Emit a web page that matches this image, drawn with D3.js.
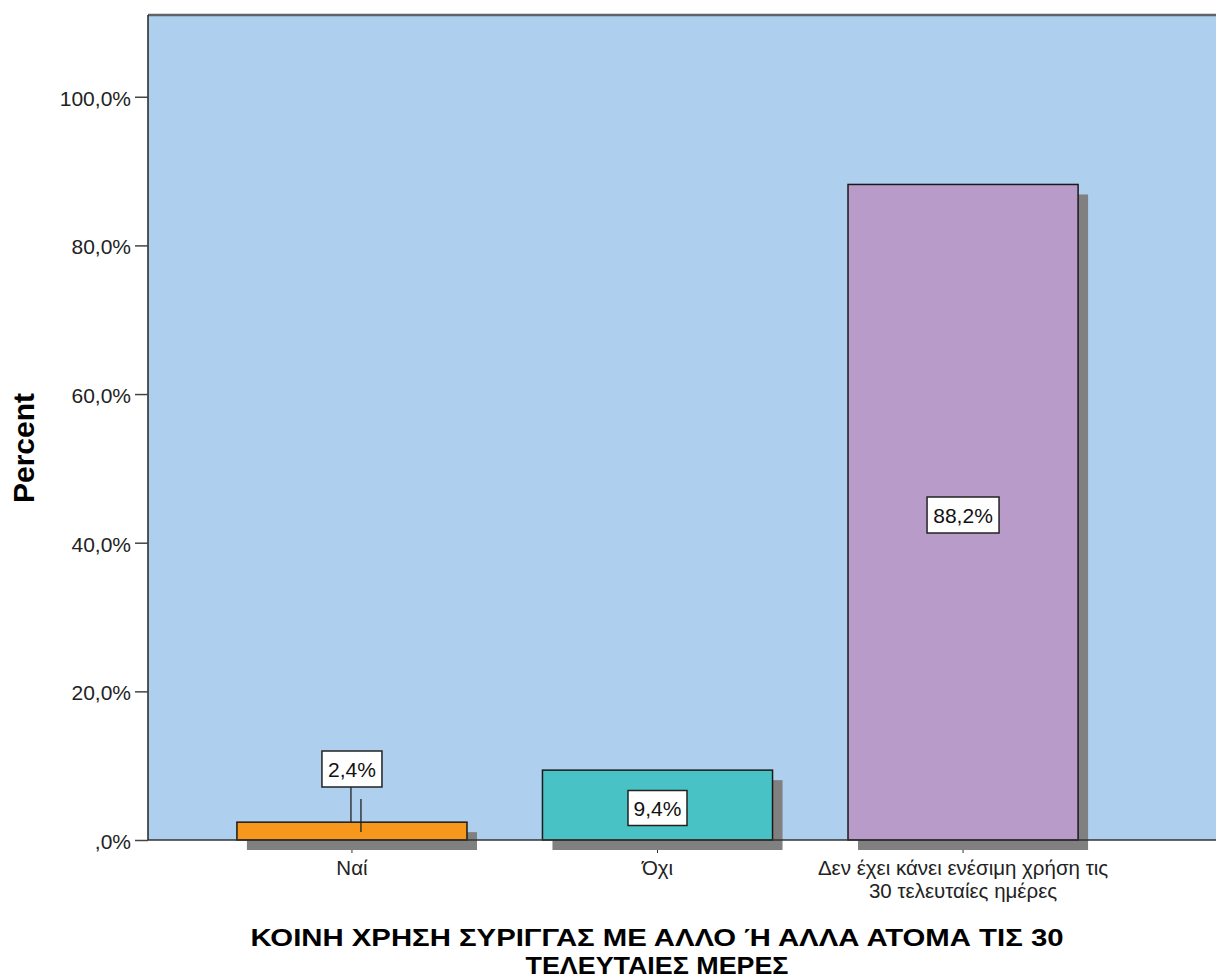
<!DOCTYPE html>
<html><head><meta charset="utf-8">
<script src="https://cdn.jsdelivr.net/npm/d3@7"></script>
<style>body{margin:0;background:#fff}</style>
</head><body>
<svg id="c" width="1216" height="979"></svg>
<script>
const categories = ["Ναί", "Όχι", "Δεν έχει κάνει ενέσιμη χρήση τις|30 τελευταίες ημέρες"];
const values = [2.4, 9.4, 88.2];
const colors = ["#F7981D", "#48C2C5", "#B89BC9"];
const valueLabels = ["2,4%", "9,4%", "88,2%"];
const yTicks = [0, 20, 40, 60, 80, 100];
const yTickLabels = [",0%", "20,0%", "40,0%", "60,0%", "80,0%", "100,0%"];
const titleLines = ["ΚΟΙΝΗ ΧΡΗΣΗ ΣΥΡΙΓΓΑΣ ΜΕ ΑΛΛΟ Ή ΑΛΛΑ ΑΤΟΜΑ ΤΙΣ 30", "ΤΕΛΕΥΤΑΙΕΣ ΜΕΡΕΣ"];

(function () {
const svg = d3.select("#c");
const pLeft = 148, pTop = 15, pBottom = 840, pRight = 1220;
const y = d3.scaleLinear().domain([0, 111]).range([pBottom, pTop]);
const x = d3.scaleBand().domain(categories).range([148, 1167]).paddingInner(0.247).paddingOuter(0.291);
const font = "'Liberation Sans', Arial, sans-serif";

svg.append("rect").attr("x", pLeft).attr("y", pTop).attr("width", pRight - pLeft).attr("height", pBottom - pTop).attr("fill", "#AECFED");
svg.append("line").attr("x1", pLeft).attr("x2", pRight).attr("y1", pTop).attr("y2", pTop).attr("stroke", "#5f6368").attr("stroke-width", 2.5);

svg.selectAll("rect.sh").data(values).join("rect").attr("class", "sh")
  .attr("x", (d, i) => x(categories[i]) + 10).attr("y", d => y(d) + 10)
  .attr("width", x.bandwidth()).attr("height", d => pBottom - y(d))
  .attr("fill", "#808080");

svg.selectAll("rect.bar").data(values).join("rect").attr("class", "bar")
  .attr("x", (d, i) => x(categories[i])).attr("y", d => y(d))
  .attr("width", x.bandwidth()).attr("height", d => pBottom - y(d))
  .attr("fill", (d, i) => colors[i]).attr("stroke", "#1a1a1a").attr("stroke-width", 1.5);

svg.append("line").attr("x1", pLeft).attr("x2", pRight).attr("y1", pBottom).attr("y2", pBottom).attr("stroke", "#333").attr("stroke-width", 1.5);

const yAxis = d3.axisLeft(y).tickValues(yTicks).tickSize(13).tickPadding(4).tickFormat((d, i) => yTickLabels[i]);
const ga = svg.append("g").attr("transform", `translate(${pLeft},0)`).call(yAxis);
ga.select(".domain").attr("stroke", "#222").attr("stroke-width", 1.5).attr("d", `M0,${pTop}V${pBottom}`);
ga.selectAll(".tick line").attr("stroke", "#444").attr("stroke-width", 1.5);
ga.selectAll(".tick text").attr("font-family", font).attr("font-size", 21).attr("fill", "#222").attr("dy", "0.4em");

const gx = svg.append("g");
categories.forEach((c, i) => {
  const cx = x(c) + x.bandwidth() / 2;
  gx.append("line").attr("x1", cx).attr("x2", cx).attr("y1", pBottom + 10).attr("y2", pBottom + 13).attr("stroke", "#333");
  c.split("|").forEach((t, j) => {
    gx.append("text").attr("x", cx).attr("y", 875 + j * 23).attr("text-anchor", "middle")
      .attr("font-family", font).attr("font-size", 20.5).attr("fill", "#222").text(t);
  });
});

const labelPos = [
  {cy: 769, w: 60, h: 36, leader: true},
  {cy: 808, w: 59, h: 35},
  {cy: 515, w: 72, h: 36}
];
values.forEach((v, i) => {
  const cx = x(categories[i]) + x.bandwidth() / 2;
  const p = labelPos[i];
  if (p.leader) {
    svg.append("line").attr("x1", cx - 1).attr("x2", cx - 1).attr("y1", p.cy + p.h / 2).attr("y2", y(v)).attr("stroke", "#222").attr("stroke-width", 1.3);
    svg.append("line").attr("x1", cx + 9).attr("x2", cx + 9).attr("y1", 799).attr("y2", 832).attr("stroke", "#222").attr("stroke-width", 1.3);
  }
  svg.append("rect").attr("x", cx - p.w / 2).attr("y", p.cy - p.h / 2).attr("width", p.w).attr("height", p.h)
    .attr("fill", "#fff").attr("stroke", "#222").attr("stroke-width", 1.5);
  svg.append("text").attr("x", cx).attr("y", p.cy + 8).attr("text-anchor", "middle")
    .attr("font-family", font).attr("font-size", 21).attr("fill", "#111").text(valueLabels[i]);
});

svg.append("text").attr("transform", "translate(34,448) rotate(-90)").attr("text-anchor", "middle")
  .attr("font-family", font).attr("font-weight", "bold").attr("font-size", 30).attr("fill", "#000").text("Percent");

titleLines.forEach((t, j) => {
  svg.append("text").attr("x", 657).attr("y", 946 + j * 28).attr("text-anchor", "middle")
    .attr("font-family", font).attr("font-weight", "bold").attr("font-size", 24).attr("fill", "#000")
    .attr("textLength", j === 0 ? 813 : 263).attr("lengthAdjust", "spacingAndGlyphs").text(t);
});
})();
</script>
</body></html>
